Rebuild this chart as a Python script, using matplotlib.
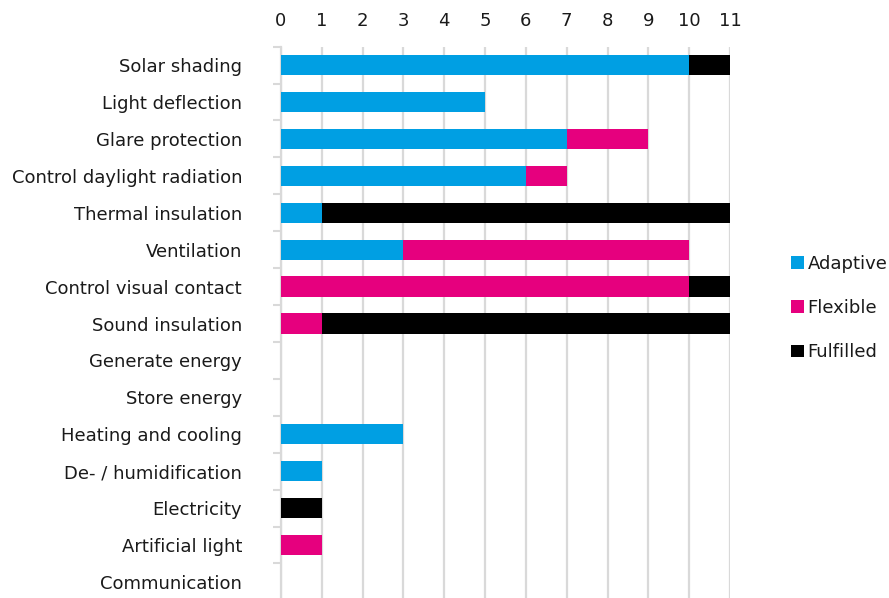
import matplotlib

matplotlib.use("Agg")

import matplotlib.pyplot as plt
import numpy as np
from matplotlib.patches import Patch

plt.rcParams["font.family"] = ["DejaVu Sans"]

categories = [
    "Solar shading",
    "Light deflection",
    "Glare protection",
    "Control daylight radiation",
    "Thermal insulation",
    "Ventilation",
    "Control visual contact",
    "Sound insulation",
    "Generate energy",
    "Store energy",
    "Heating and cooling",
    "De- / humidification",
    "Electricity",
    "Artificial light",
    "Communication",
]
adaptive = [10, 5, 7, 6, 1, 3, 0, 0, 0, 0, 3, 1, 0, 0, 0]
flexible = [0, 0, 2, 1, 0, 7, 10, 1, 0, 0, 0, 0, 0, 1, 0]
fulfilled = [1, 0, 0, 0, 10, 0, 1, 10, 0, 0, 0, 0, 1, 0, 0]

series_names = ["Adaptive", "Flexible", "Fulfilled"]
colors = ["#009FE3", "#E6007E", "#000000"]
grid_color = "#D9D9D9"
text_color = "#1A1A1A"
fs = 13

fig = plt.figure(figsize=(8.89, 5.98), dpi=100)
ax = fig.add_axes([281 / 889, -0.004, 449 / 889, 0.926])

y = np.arange(len(categories))
left = np.zeros(len(categories))
for vals, name, col in zip([adaptive, flexible, fulfilled], series_names, colors):
    vals = np.asarray(vals, dtype=float)
    ax.barh(y, vals, left=left, height=0.55, color=col, label=name, zorder=3)
    left += vals

ax.set_xlim(0, 11)
ax.set_ylim(len(categories) - 0.5, -0.5)
ax.set_xticks(range(12))
ax.xaxis.tick_top()
ax.tick_params(axis="x", length=0, pad=12, labelsize=fs, labelcolor=text_color)
ax.set_yticks(y)
ax.set_yticklabels(categories)
ax.tick_params(axis="y", which="major", length=0, pad=28, labelsize=fs,
               labelcolor=text_color)
ax.set_yticks(np.arange(-0.5, len(categories), 1.0), minor=True)
ax.tick_params(axis="y", which="minor", length=6, width=1.5, color=grid_color)

ax.grid(axis="x", color=grid_color, lw=1.6, zorder=0)
for side in ["top", "right", "bottom"]:
    ax.spines[side].set_visible(False)
ax.spines["left"].set_color(grid_color)
ax.spines["left"].set_linewidth(1.6)

handles = [Patch(facecolor=c, edgecolor="none") for c in colors]
leg = fig.legend(
    handles, series_names,
    loc="center left", bbox_to_anchor=(784 / 889, 1 - 308 / 598),
    frameon=False, fontsize=fs,
    handlelength=0.7, handleheight=0.7, handletextpad=0.2,
    labelspacing=1.45, borderpad=0.2, borderaxespad=0.2,
)
for t in leg.get_texts():
    t.set_color(text_color)

fig.savefig("out.png", dpi=100)
